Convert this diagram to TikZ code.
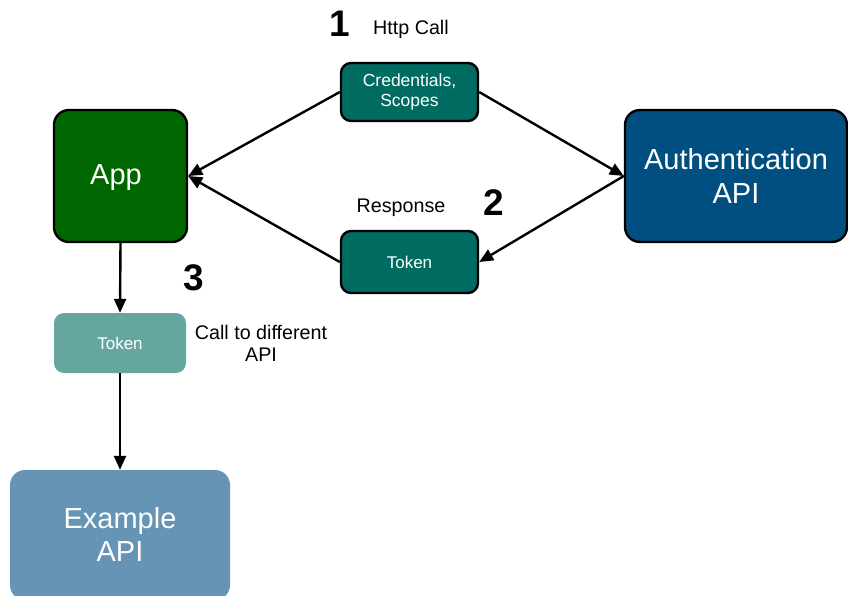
\documentclass[tikz,border=0pt]{standalone}
\usepackage{fontspec}
\setmainfont{Liberation Sans}
\usetikzlibrary{arrows.meta}
\definecolor{appgreen}{RGB}{0,102,0}
\definecolor{authblue}{RGB}{0,79,128}
\definecolor{teal1}{RGB}{0,107,96}
\definecolor{teal2}{RGB}{101,167,160}
\definecolor{exblue}{RGB}{101,148,180}
\tikzset{
  bigbox/.style={draw=black, line width=2.4pt, rounded corners=15pt, text=white, font=\fontsize{29}{34}\selectfont, align=center, inner sep=0pt},
  smallbox/.style={draw=black, line width=2.4pt, fill=teal1, rounded corners=10pt, text=white, font=\fontsize{17}{20}\selectfont, align=center, inner sep=0pt, minimum width=137pt, minimum height=58pt},
  lbl/.style={font=\fontsize{19.7}{22}\selectfont, align=center, inner sep=0pt},
  num/.style={font=\fontsize{37}{40}\selectfont\bfseries, inner sep=0pt},
  conn/.style={line width=2.4pt, -{Triangle[width=12pt,length=14pt]}}
}
\begin{document}
\begin{tikzpicture}[x=1pt,y=-1pt]
\useasboundingbox[fill=white] (0,0) rectangle (848,595);
\node[bigbox, fill=appgreen, minimum width=133pt, minimum height=132pt] (app) at (120.5,176) {};
\node[text=white, font=\fontsize{29}{34}\selectfont, inner sep=0pt] (apptxt) at (116,178) {App};
\node[bigbox, fill=authblue, minimum width=222pt, minimum height=132pt] (auth) at (736,176) {Authentication\\API};
\node[smallbox, font=\fontsize{17.5}{20}\selectfont] (cred) at (409.5,92) {Credentials,\\Scopes};
\node[smallbox, minimum height=62pt] (tokm) at (409.5,262) {Token};
\node[draw=none, fill=teal2, rounded corners=10pt, text=white, font=\fontsize{17}{20}\selectfont, minimum width=132pt, minimum height=60pt, inner sep=0pt] (tokl) at (120,343) {Token};
\node[fill=exblue, rounded corners=15pt, minimum width=220pt, minimum height=130pt, inner sep=0pt] (ex) at (120,535) {};
\node[text=white, font=\fontsize{29}{33}\selectfont, align=center, inner sep=0pt] (extxt) at (120,534) {Example\\API};
\node[num] (n1) at (340,24) {1};
\node[lbl, anchor=west] (http) at (373,29) {Http Call};
\node[lbl] (resp) at (401,208) {Response};
\node[num] (n2) at (494,203) {2};
\node[num] (n3) at (194,278) {3};
\node[lbl] (call) at (261,343) {Call to different\\API};
\draw[conn] (cred.west) -- (app.east);
\draw[conn] (tokm.west) -- (app.east);
\draw[conn] (cred.east) -- (auth.west);
\draw[conn] (auth.west) -- (tokm.east);
\draw[conn] (app.south) -- (tokl.north);
\draw[conn] (tokl.south) -- (ex.north);
\end{tikzpicture}
\end{document}
